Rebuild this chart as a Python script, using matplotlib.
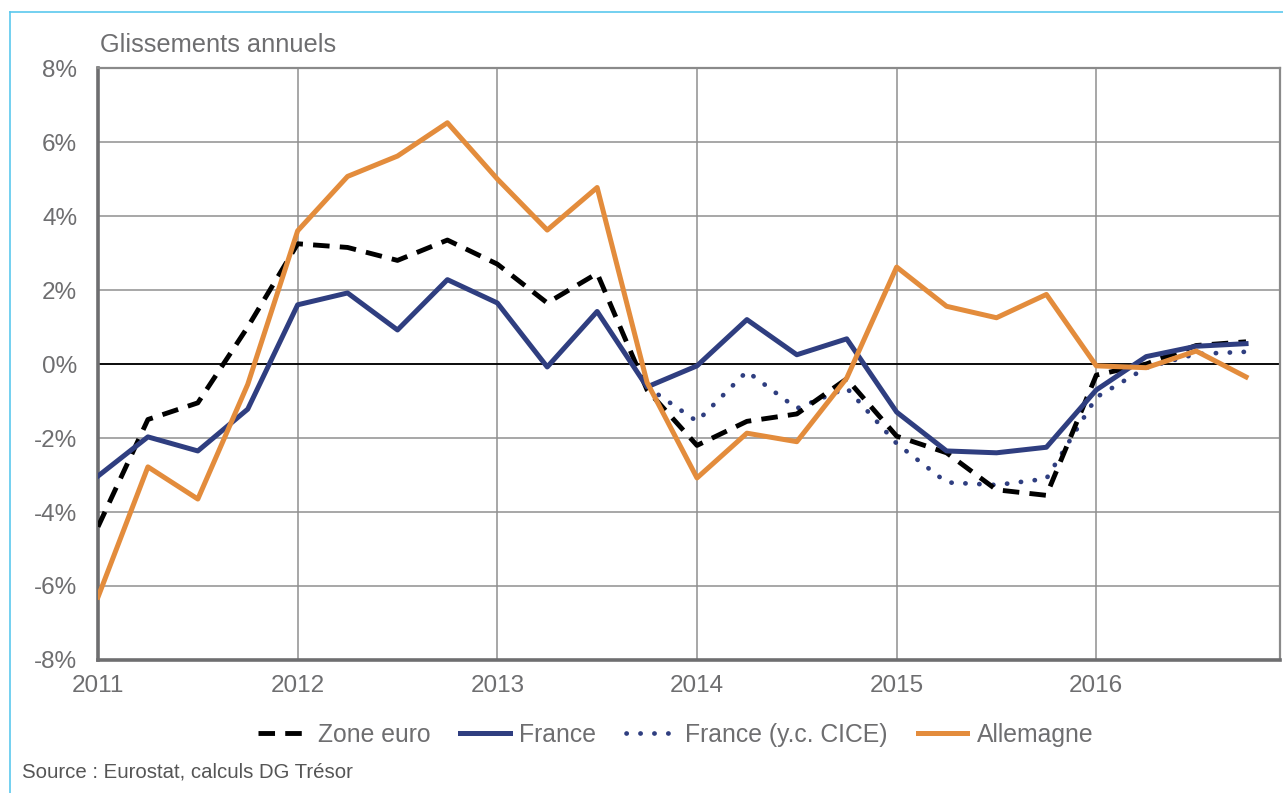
import numpy as np
import matplotlib.pyplot as plt
from matplotlib.lines import Line2D

plt.rcParams['font.family'] = ['Liberation Sans', 'DejaVu Sans']

# quarterly dates, 2011Q1 .. 2016Q4
quarters = 2011 + np.arange(24) / 4
quarters_cice = quarters[11:]

zone_euro = [-4.4, -1.5, -1.05, 1.0, 3.25, 3.15, 2.8, 3.35, 2.7, 1.65, 2.45, -0.7,
             -2.2, -1.55, -1.35, -0.4, -1.95, -2.4, -3.4, -3.55, -0.3, 0.0, 0.5, 0.6]
france = [-3.03, -1.97, -2.35, -1.22, 1.6, 1.92, 0.92, 2.28, 1.65, -0.08, 1.42, -0.62,
          -0.05, 1.2, 0.25, 0.68, -1.3, -2.35, -2.4, -2.25, -0.7, 0.2, 0.48, 0.55]
france_cice = [-0.62, -1.55, -0.2, -1.2, -0.65, -2.15, -3.2, -3.27, -3.1, -0.9, -0.1, 0.27, 0.33]
allemagne = [-6.3, -2.78, -3.65, -0.55, 3.6, 5.07, 5.62, 6.52, 5.0, 3.62, 4.77, -0.5,
             -3.08, -1.87, -2.1, -0.38, 2.62, 1.56, 1.25, 1.88, -0.05, -0.1, 0.35, -0.35]

years = [2011, 2012, 2013, 2014, 2015, 2016]
yticks = [-8, -6, -4, -2, 0, 2, 4, 6, 8]

navy = '#2f3e80'
orange = '#e38c3c'
gray = '#6e6e70'

fig = plt.figure(figsize=(12.83, 7.93), dpi=100)
ax = fig.add_axes([98 / 1283, 1 - 660 / 793, 1182 / 1283, 592 / 793])

ax.plot(quarters_cice, france_cice, color=navy, lw=3.4, ls=(0, (0.05, 2.9)),
        dash_capstyle='round', zorder=3)
ax.plot(quarters, zone_euro, color='black', lw=3.5, dashes=(3.4, 2.1), zorder=4)
ax.plot(quarters, france, color=navy, lw=3.6, zorder=5)
ax.plot(quarters, allemagne, color=orange, lw=3.6, zorder=6)

ax.axhline(0, color='black', lw=1.3, zorder=2)

ax.set_xlim(2011, 2016.92)
ax.set_ylim(-8, 8)
ax.set_xticks(years)
ax.set_xticklabels([str(y) for y in years])
ax.set_yticks(yticks)
ax.set_yticklabels([f'{v}%' for v in yticks])
ax.grid(True, color='#8f8f8f', lw=1.1, zorder=1)
ax.set_axisbelow(True)
ax.tick_params(length=0, labelsize=17.5, labelcolor=gray)
ax.tick_params(axis='y', pad=15)
ax.tick_params(axis='x', pad=11)

for side in ['left', 'bottom']:
    ax.spines[side].set_linewidth(2.6)
    ax.spines[side].set_color(gray)
for side in ['top', 'right']:
    ax.spines[side].set_linewidth(1.6)
    ax.spines[side].set_color('#8a8a8a')

fig.text(100 / 1283, 1 - 52 / 793, 'Glissements annuels', fontsize=18.3,
         color=gray, va='baseline', ha='left')
fig.text(22 / 1283, 1 - 777 / 793, 'Source : Eurostat, calculs DG Trésor',
         fontsize=14.7, color='#555555', va='baseline', ha='left')

handles = [
    Line2D([], [], color='black', lw=3.5, dashes=(3.4, 2.1)),
    Line2D([], [], color=navy, lw=3.6),
    Line2D([], [], color=navy, lw=3.4, ls=(0, (0.05, 2.9)), dash_capstyle='round'),
    Line2D([], [], color=orange, lw=3.6),
]
labels = ['Zone euro', 'France', 'France (y.c. CICE)', 'Allemagne']
leg = fig.legend(handles, labels, loc='center', bbox_to_anchor=(676 / 1283, 1 - 735 / 793),
                 ncol=4, frameon=False, fontsize=17.8, handlelength=2.0,
                 columnspacing=1.2, handletextpad=0.4)
for t in leg.get_texts():
    t.set_color(gray)

# light blue frame round the figure
fig.add_artist(Line2D([10 / 1283, 10 / 1283], [0, 1 - 12 / 793],
                      transform=fig.transFigure, color='#5bc8ee', lw=1.2))
fig.add_artist(Line2D([10 / 1283, 1], [1 - 12 / 793, 1 - 12 / 793],
                      transform=fig.transFigure, color='#5bc8ee', lw=1.2))

fig.savefig('out.png', dpi=100)
